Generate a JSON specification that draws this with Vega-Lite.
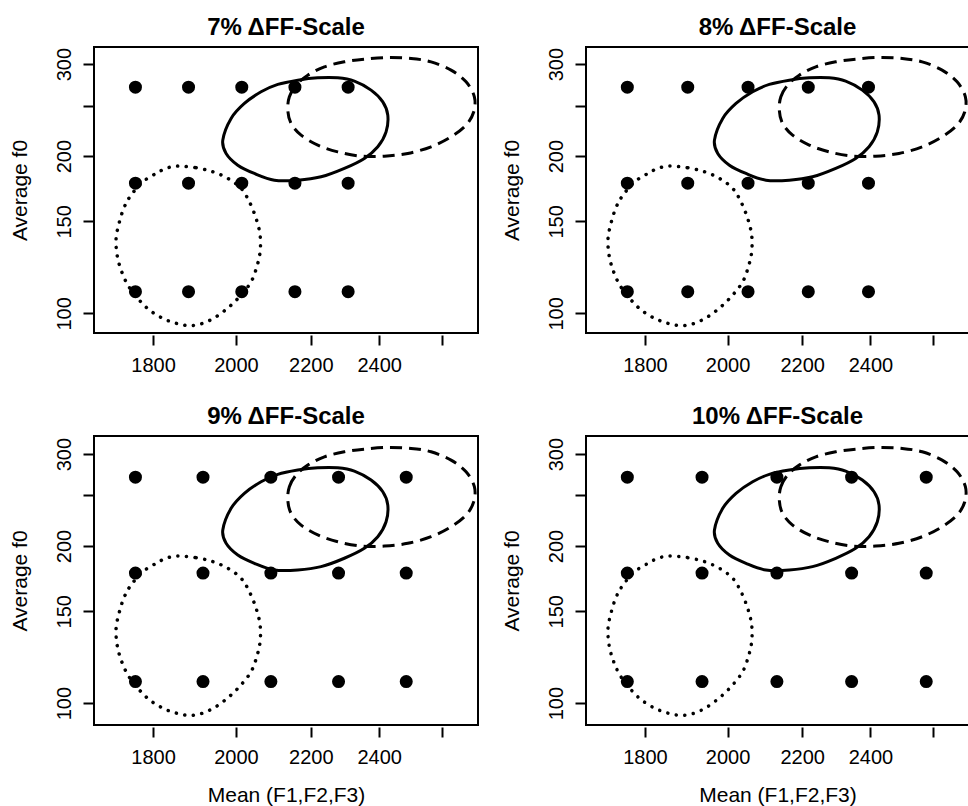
{
"$schema": "https://vega.github.io/schema/vega-lite/v6.json",
"background": "white",
"padding": {"left": 8, "top": 15, "right": 0, "bottom": 0},
"datasets": {
"pts": [
{"p":"7%","x":1760,"y":271},{"p":"7%","x":1883,"y":271},{"p":"7%","x":2015,"y":271},{"p":"7%","x":2156,"y":271},{"p":"7%","x":2307,"y":271},
{"p":"7%","x":1760,"y":177.5},{"p":"7%","x":1883,"y":177.5},{"p":"7%","x":2015,"y":177.5},{"p":"7%","x":2156,"y":177.5},{"p":"7%","x":2307,"y":177.5},
{"p":"7%","x":1760,"y":110},{"p":"7%","x":1883,"y":110},{"p":"7%","x":2015,"y":110},{"p":"7%","x":2156,"y":110},{"p":"7%","x":2307,"y":110},
{"p":"8%","x":1760,"y":271},{"p":"8%","x":1901,"y":271},{"p":"8%","x":2053,"y":271},{"p":"8%","x":2217,"y":271},{"p":"8%","x":2394,"y":271},
{"p":"8%","x":1760,"y":177.5},{"p":"8%","x":1901,"y":177.5},{"p":"8%","x":2053,"y":177.5},{"p":"8%","x":2217,"y":177.5},{"p":"8%","x":2394,"y":177.5},
{"p":"8%","x":1760,"y":110},{"p":"8%","x":1901,"y":110},{"p":"8%","x":2053,"y":110},{"p":"8%","x":2217,"y":110},{"p":"8%","x":2394,"y":110},
{"p":"9%","x":1760,"y":271},{"p":"9%","x":1918,"y":271},{"p":"9%","x":2091,"y":271},{"p":"9%","x":2279,"y":271},{"p":"9%","x":2484,"y":271},
{"p":"9%","x":1760,"y":177.5},{"p":"9%","x":1918,"y":177.5},{"p":"9%","x":2091,"y":177.5},{"p":"9%","x":2279,"y":177.5},{"p":"9%","x":2484,"y":177.5},
{"p":"9%","x":1760,"y":110},{"p":"9%","x":1918,"y":110},{"p":"9%","x":2091,"y":110},{"p":"9%","x":2279,"y":110},{"p":"9%","x":2484,"y":110},
{"p":"10%","x":1760,"y":271},{"p":"10%","x":1936,"y":271},{"p":"10%","x":2130,"y":271},{"p":"10%","x":2343,"y":271},{"p":"10%","x":2577,"y":271},
{"p":"10%","x":1760,"y":177.5},{"p":"10%","x":1936,"y":177.5},{"p":"10%","x":2130,"y":177.5},{"p":"10%","x":2343,"y":177.5},{"p":"10%","x":2577,"y":177.5},
{"p":"10%","x":1760,"y":110},{"p":"10%","x":1936,"y":110},{"p":"10%","x":2130,"y":110},{"p":"10%","x":2343,"y":110},{"p":"10%","x":2577,"y":110}
],
"ell": [
{"g":"solid","i":0,"x":1966.9,"y":214.6},{"g":"solid","i":1,"x":1987.8,"y":236.2},{"g":"solid","i":2,"x":2021.7,"y":252.3},{"g":"solid","i":3,"x":2065.1,"y":265.6},{"g":"solid","i":4,"x":2109.5,"y":274.4},{"g":"solid","i":5,"x":2163.9,"y":279.6},{"g":"solid","i":6,"x":2219.6,"y":282.5},{"g":"solid","i":7,"x":2276.8,"y":282.5},{"g":"solid","i":8,"x":2325.4,"y":278.4},{"g":"solid","i":9,"x":2375.3,"y":267.6},{"g":"solid","i":10,"x":2411.0,"y":254.1},{"g":"solid","i":11,"x":2426.4,"y":239.6},{"g":"solid","i":12,"x":2421.1,"y":222.6},{"g":"solid","i":13,"x":2395.7,"y":208.4},{"g":"solid","i":14,"x":2355.2,"y":198.0},{"g":"solid","i":15,"x":2296.0,"y":189.5},{"g":"solid","i":16,"x":2228.9,"y":182.6},{"g":"solid","i":17,"x":2163.9,"y":179.9},{"g":"solid","i":18,"x":2100.4,"y":179.9},{"g":"solid","i":19,"x":2047.6,"y":185.3},{"g":"solid","i":20,"x":2004.8,"y":192.2},{"g":"solid","i":21,"x":1975.2,"y":202.4},
{"g":"dashed","i":0,"x":2136.5,"y":245.0},{"g":"dashed","i":1,"x":2140.8,"y":259.8},{"g":"dashed","i":2,"x":2159.2,"y":273.5},{"g":"dashed","i":3,"x":2191.6,"y":285.8},{"g":"dashed","i":4,"x":2238.3,"y":296.5},{"g":"dashed","i":5,"x":2296.0,"y":303.1},{"g":"dashed","i":6,"x":2355.2,"y":306.7},{"g":"dashed","i":7,"x":2426.4,"y":309.0},{"g":"dashed","i":8,"x":2499.3,"y":307.7},{"g":"dashed","i":9,"x":2563.8,"y":303.1},{"g":"dashed","i":10,"x":2629.8,"y":292.2},{"g":"dashed","i":11,"x":2680.5,"y":277.5},{"g":"dashed","i":12,"x":2709.0,"y":259.8},{"g":"dashed","i":13,"x":2706.9,"y":243.2},{"g":"dashed","i":14,"x":2680.5,"y":229.3},{"g":"dashed","i":15,"x":2629.8,"y":217.8},{"g":"dashed","i":16,"x":2563.8,"y":208.4},{"g":"dashed","i":17,"x":2488.9,"y":202.4},{"g":"dashed","i":18,"x":2415.9,"y":200.0},{"g":"dashed","i":19,"x":2345.3,"y":200.0},{"g":"dashed","i":20,"x":2276.8,"y":203.8},{"g":"dashed","i":21,"x":2219.6,"y":210.0},{"g":"dashed","i":22,"x":2173.0,"y":219.4},{"g":"dashed","i":23,"x":2145.5,"y":231.0},
{"g":"dotted","i":0,"x":1857.5,"y":191.4},{"g":"dotted","i":1,"x":1901.2,"y":190.0},{"g":"dotted","i":2,"x":1942.0,"y":186.7},{"g":"dotted","i":3,"x":1979.5,"y":181.3},{"g":"dotted","i":4,"x":2013.2,"y":173.5},{"g":"dotted","i":5,"x":2034.6,"y":163.5},{"g":"dotted","i":6,"x":2052.0,"y":152.0},{"g":"dotted","i":7,"x":2062.5,"y":141.2},{"g":"dotted","i":8,"x":2062.5,"y":131.2},{"g":"dotted","i":9,"x":2053.9,"y":122.8},{"g":"dotted","i":10,"x":2039.0,"y":114.9},{"g":"dotted","i":11,"x":2013.2,"y":108.4},{"g":"dotted","i":12,"x":1983.5,"y":103.0},{"g":"dotted","i":13,"x":1950.2,"y":98.5},{"g":"dotted","i":14,"x":1917.5,"y":95.7},{"g":"dotted","i":15,"x":1885.1,"y":94.7},{"g":"dotted","i":16,"x":1853.4,"y":95.7},{"g":"dotted","i":17,"x":1822.4,"y":97.8},{"g":"dotted","i":18,"x":1791.5,"y":101.5},{"g":"dotted","i":19,"x":1765.3,"y":106.8},{"g":"dotted","i":20,"x":1743.0,"y":113.3},{"g":"dotted","i":21,"x":1728.2,"y":121.0},{"g":"dotted","i":22,"x":1719.4,"y":129.3},{"g":"dotted","i":23,"x":1717.2,"y":139.2},{"g":"dotted","i":24,"x":1724.5,"y":149.7},{"g":"dotted","i":25,"x":1735.5,"y":160.0},{"g":"dotted","i":26,"x":1750.3,"y":168.4},{"g":"dotted","i":27,"x":1776.6,"y":178.6},{"g":"dotted","i":28,"x":1806.9,"y":185.3},{"g":"dotted","i":29,"x":1830.0,"y":189.5}
]
},
"config": {
"view": {"stroke": "black", "strokeWidth": 2},
"font": "Liberation Sans",
"axis": {"domain": false, "grid": false, "tickColor": "black", "tickWidth": 2, "labelColor": "black", "labelFont": "Liberation Sans", "labelFontSize": 20, "titleFont": "Liberation Sans", "titleFontSize": 21, "titleFontWeight": "normal", "titleColor": "black", "labelOverlap": false, "labelFlush": false, "format": "d"},
"axisX": {"offset": 2, "tickSize": 10, "labelPadding": 10, "titlePadding": 17},
"axisY": {"offset": 1, "tickSize": 10, "labelPadding": 13, "labelAngle": -90, "labelAlign": "center", "labelBaseline": "alphabetic", "titlePadding": 24},
"title": {"font": "Liberation Sans", "fontSize": 24, "fontWeight": "bold", "color": "black", "offset": 7, "anchor": "middle"}
},
"columns": 2,
"spacing": {"row": 103, "column": 108},
"bounds": "flush",
"concat": [
{"width": 384, "height": 286, "title": "7% ΔFF-Scale",
 "encoding": {"x": {"field": "x", "type": "quantitative", "scale": {"type": "log", "domain": [1669.6, 2721.5], "nice": false}, "axis": {"title": null, "values": [1800, 2000, 2200, 2400, 2600], "labelExpr": "datum.value == 2600 ? '' : datum.label"}},
  "y": {"field": "y", "type": "quantitative", "scale": {"type": "log", "domain": [91.7, 323.6], "nice": false}, "axis": {"title": "Average f0", "values": [100, 150, 200, 250, 300], "labelExpr": "datum.value == 250 ? '' : datum.label"}}},
 "layer": [
  {"data": {"name": "pts"}, "transform": [{"filter": "datum.p == '7%'"}], "mark": {"type": "point", "filled": true, "shape": "circle", "size": 170, "color": "black", "opacity": 1}},
  {"data": {"name": "ell"}, "transform": [{"filter": "datum.g == 'solid'"}], "mark": {"type": "line", "color": "black", "strokeWidth": 3, "interpolate": "cardinal-closed"}, "encoding": {"order": {"field": "i", "type": "quantitative"}}},
  {"data": {"name": "ell"}, "transform": [{"filter": "datum.g == 'dashed'"}], "mark": {"type": "line", "color": "black", "strokeWidth": 3, "strokeDash": [12, 7], "interpolate": "cardinal-closed"}, "encoding": {"order": {"field": "i", "type": "quantitative"}}},
  {"data": {"name": "ell"}, "transform": [{"filter": "datum.g == 'dotted'"}], "mark": {"type": "line", "color": "black", "strokeWidth": 3.5, "strokeDash": [0.1, 8.5], "strokeCap": "round", "interpolate": "cardinal-closed"}, "encoding": {"order": {"field": "i", "type": "quantitative"}}}
 ]},
{"width": 383, "height": 286, "title": "8% ΔFF-Scale",
 "encoding": {"x": {"field": "x", "type": "quantitative", "scale": {"type": "log", "domain": [1669.6, 2721.5], "nice": false}, "axis": {"title": null, "values": [1800, 2000, 2200, 2400, 2600], "labelExpr": "datum.value == 2600 ? '' : datum.label"}},
  "y": {"field": "y", "type": "quantitative", "scale": {"type": "log", "domain": [91.7, 323.6], "nice": false}, "axis": {"title": "Average f0", "values": [100, 150, 200, 250, 300], "labelExpr": "datum.value == 250 ? '' : datum.label"}}},
 "layer": [
  {"data": {"name": "pts"}, "transform": [{"filter": "datum.p == '8%'"}], "mark": {"type": "point", "filled": true, "shape": "circle", "size": 170, "color": "black", "opacity": 1}},
  {"data": {"name": "ell"}, "transform": [{"filter": "datum.g == 'solid'"}], "mark": {"type": "line", "color": "black", "strokeWidth": 3, "interpolate": "cardinal-closed"}, "encoding": {"order": {"field": "i", "type": "quantitative"}}},
  {"data": {"name": "ell"}, "transform": [{"filter": "datum.g == 'dashed'"}], "mark": {"type": "line", "color": "black", "strokeWidth": 3, "strokeDash": [12, 7], "interpolate": "cardinal-closed"}, "encoding": {"order": {"field": "i", "type": "quantitative"}}},
  {"data": {"name": "ell"}, "transform": [{"filter": "datum.g == 'dotted'"}], "mark": {"type": "line", "color": "black", "strokeWidth": 3.5, "strokeDash": [0.1, 8.5], "strokeCap": "round", "interpolate": "cardinal-closed"}, "encoding": {"order": {"field": "i", "type": "quantitative"}}}
 ]},
{"width": 384, "height": 289, "title": "9% ΔFF-Scale",
 "encoding": {"x": {"field": "x", "type": "quantitative", "scale": {"type": "log", "domain": [1669.6, 2721.5], "nice": false}, "axis": {"title": "Mean (F1,F2,F3)", "values": [1800, 2000, 2200, 2400, 2600], "labelExpr": "datum.value == 2600 ? '' : datum.label"}},
  "y": {"field": "y", "type": "quantitative", "scale": {"type": "log", "domain": [90.8, 325.0], "nice": false}, "axis": {"title": "Average f0", "values": [100, 150, 200, 250, 300], "labelExpr": "datum.value == 250 ? '' : datum.label"}}},
 "layer": [
  {"data": {"name": "pts"}, "transform": [{"filter": "datum.p == '9%'"}], "mark": {"type": "point", "filled": true, "shape": "circle", "size": 170, "color": "black", "opacity": 1}},
  {"data": {"name": "ell"}, "transform": [{"filter": "datum.g == 'solid'"}], "mark": {"type": "line", "color": "black", "strokeWidth": 3, "interpolate": "cardinal-closed"}, "encoding": {"order": {"field": "i", "type": "quantitative"}}},
  {"data": {"name": "ell"}, "transform": [{"filter": "datum.g == 'dashed'"}], "mark": {"type": "line", "color": "black", "strokeWidth": 3, "strokeDash": [12, 7], "interpolate": "cardinal-closed"}, "encoding": {"order": {"field": "i", "type": "quantitative"}}},
  {"data": {"name": "ell"}, "transform": [{"filter": "datum.g == 'dotted'"}], "mark": {"type": "line", "color": "black", "strokeWidth": 3.5, "strokeDash": [0.1, 8.5], "strokeCap": "round", "interpolate": "cardinal-closed"}, "encoding": {"order": {"field": "i", "type": "quantitative"}}}
 ]},
{"width": 383, "height": 289, "title": "10% ΔFF-Scale",
 "encoding": {"x": {"field": "x", "type": "quantitative", "scale": {"type": "log", "domain": [1669.6, 2721.5], "nice": false}, "axis": {"title": "Mean (F1,F2,F3)", "values": [1800, 2000, 2200, 2400, 2600], "labelExpr": "datum.value == 2600 ? '' : datum.label"}},
  "y": {"field": "y", "type": "quantitative", "scale": {"type": "log", "domain": [90.8, 325.0], "nice": false}, "axis": {"title": "Average f0", "values": [100, 150, 200, 250, 300], "labelExpr": "datum.value == 250 ? '' : datum.label"}}},
 "layer": [
  {"data": {"name": "pts"}, "transform": [{"filter": "datum.p == '10%'"}], "mark": {"type": "point", "filled": true, "shape": "circle", "size": 170, "color": "black", "opacity": 1}},
  {"data": {"name": "ell"}, "transform": [{"filter": "datum.g == 'solid'"}], "mark": {"type": "line", "color": "black", "strokeWidth": 3, "interpolate": "cardinal-closed"}, "encoding": {"order": {"field": "i", "type": "quantitative"}}},
  {"data": {"name": "ell"}, "transform": [{"filter": "datum.g == 'dashed'"}], "mark": {"type": "line", "color": "black", "strokeWidth": 3, "strokeDash": [12, 7], "interpolate": "cardinal-closed"}, "encoding": {"order": {"field": "i", "type": "quantitative"}}},
  {"data": {"name": "ell"}, "transform": [{"filter": "datum.g == 'dotted'"}], "mark": {"type": "line", "color": "black", "strokeWidth": 3.5, "strokeDash": [0.1, 8.5], "strokeCap": "round", "interpolate": "cardinal-closed"}, "encoding": {"order": {"field": "i", "type": "quantitative"}}}
 ]}
]
}
